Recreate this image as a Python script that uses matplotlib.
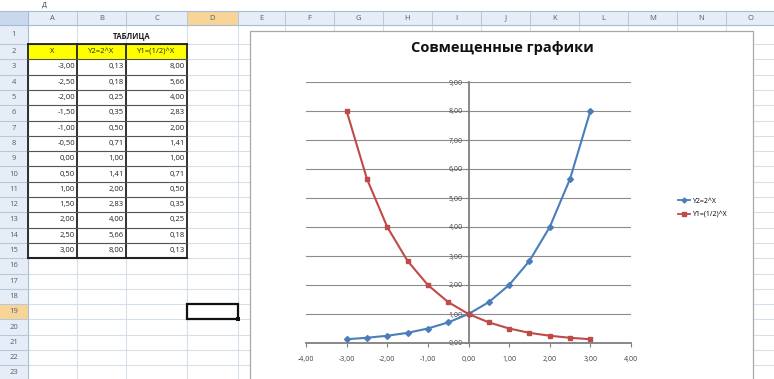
import matplotlib.pyplot as plt
from matplotlib.patches import Rectangle
from matplotlib.ticker import FuncFormatter, MultipleLocator
from matplotlib.lines import Line2D

plt.rcParams['font.family'] = ['Open Sans', 'DejaVu Sans']

# data from the sheet
x = [-3.0, -2.5, -2.0, -1.5, -1.0, -0.5, 0.0, 0.5, 1.0, 1.5, 2.0, 2.5, 3.0]
y2 = [0.13, 0.18, 0.25, 0.35, 0.50, 0.71, 1.00, 1.41, 2.00, 2.83, 4.00, 5.66, 8.00]
y1 = [8.00, 5.66, 4.00, 2.83, 2.00, 1.41, 1.00, 0.71, 0.50, 0.35, 0.25, 0.18, 0.13]
headers = ['X', 'Y2=2^X', 'Y1=(1/2)^X']
col_letters = list('ABCDEFGHIJKLMNO')
title = 'Совмещенные графики'
table_title = 'ТАБЛИЦА'

BLUE = '#4A7EBB'
RED = '#BE4B48'

W, H = 774, 379
fig = plt.figure(figsize=(W / 100, H / 100), dpi=100)
bg = fig.add_axes([0, 0, 1, 1])
bg.set_xlim(0, W)
bg.set_ylim(H, 0)
bg.axis('off')

# sheet geometry (pixels)
col_edges = [0, 28, 77, 126, 187, 238, 285, 334, 383, 432, 481, 530, 579, 628, 677, 726, 775]
row_h = 15.3
head_top, head_bot = 11, 25
row_tops = [25, 44] + [44 + i * row_h for i in range(1, 23)]


def row_span(r):
    return row_tops[r - 1], row_tops[r]


def fmt(v):
    return f'{v:.2f}'.replace('.', ',')


grid_c = '#D6DEEA'
for xe in col_edges[1:]:
    bg.plot([xe, xe], [head_top, H], color=grid_c, lw=0.8, zorder=1)
for yt in row_tops:
    bg.plot([0, W], [yt, yt], color=grid_c, lw=0.8, zorder=1)

# column header band
bg.add_patch(Rectangle((0, head_top), W, head_bot - head_top, fc='#E6EDF7', ec='none', zorder=2))
bg.add_patch(Rectangle((0, head_top), 28, head_bot - head_top, fc='#C9D8EC', ec='none', zorder=2))
bg.add_patch(Rectangle((col_edges[4], head_top), col_edges[5] - col_edges[4], head_bot - head_top,
                       fc='#F8D596', ec='none', zorder=2))
bg.plot([0, W], [head_top, head_top], color='#A9BCD6', lw=0.8, zorder=3)
bg.plot([0, W], [head_bot, head_bot], color='#A9BCD6', lw=0.8, zorder=3)
for i, letter in enumerate(col_letters):
    xl, xr = col_edges[i + 1], col_edges[i + 2]
    bg.plot([xr, xr], [head_top, head_bot], color='#B9C9DD', lw=0.8, zorder=3)
    bg.text((xl + xr) / 2, (head_top + head_bot) / 2, letter, ha='center', va='center',
            fontsize=5.5, color='#4C5F7C', zorder=4)

# row header column
bg.add_patch(Rectangle((0, head_bot), 28, H - head_bot, fc='#E6EDF7', ec='none', zorder=2))
bg.plot([28, 28], [head_top, H], color='#A9BCD6', lw=0.8, zorder=3)
for r in range(1, 24):
    t, b = row_span(r)
    if r == 19:
        bg.add_patch(Rectangle((0, t), 28, b - t, fc='#F8D596', ec='none', zorder=2))
    bg.plot([0, 28], [b, b], color='#B9C9DD', lw=0.8, zorder=3)
    bg.text(14, (t + b) / 2, str(r), ha='center', va='center', fontsize=5.5, color='#4C5F7C', zorder=4)

# text at the very top of the screenshot
bg.text(44, 5, 'Д', ha='center', va='center', fontsize=5, color='#333333', zorder=4)

# table
t1, b1 = row_span(1)
bg.text(132, (t1 + b1) / 2 + 1, table_title, ha='center', va='center', fontsize=5.5,
        fontweight='bold', color='#222222', zorder=4)
t2, b2 = row_span(2)
bg.add_patch(Rectangle((col_edges[1], t2), col_edges[4] - col_edges[1], b2 - t2,
                       fc='#FFFF00', ec='none', zorder=3))
for j, h in enumerate(headers):
    bg.text((col_edges[j + 1] + col_edges[j + 2]) / 2, (t2 + b2) / 2, h, ha='center', va='center',
            fontsize=5.5, color='#222222', zorder=4)
for i in range(len(x)):
    t, b = row_span(3 + i)
    for j, v in enumerate([x[i], y2[i], y1[i]]):
        bg.text(col_edges[j + 2] - 2, (t + b) / 2, fmt(v), ha='right', va='center',
                fontsize=5.5, color='#222222', zorder=4)
t_end = row_span(15)[1]
for xe in col_edges[1:5]:
    bg.plot([xe, xe], [t2, t_end], color='#222222', lw=1.3, zorder=5)
for r in range(2, 16):
    t, b = row_span(r)
    bg.plot([col_edges[1], col_edges[4]], [t, t], color='#555555', lw=0.8, zorder=5)
bg.plot([col_edges[1], col_edges[4]], [t2, t2], color='#222222', lw=1.3, zorder=5)
bg.plot([col_edges[1], col_edges[4]], [t_end, t_end], color='#222222', lw=1.5, zorder=5)

# selected cell D19
t19, b19 = row_span(19)
bg.add_patch(Rectangle((col_edges[4], t19), col_edges[5] - col_edges[4], b19 - t19,
                       fc='none', ec='#111111', lw=1.6, zorder=6))
bg.add_patch(Rectangle((col_edges[5] - 2, b19 - 2), 4, 4, fc='#111111', ec='none', zorder=6))

# chart frame
bg.add_patch(Rectangle((250, 31), 503, 360, fc='white', ec='#A8A8A8', lw=0.9, zorder=7))
bg.text(502, 48, title, ha='center', va='center', fontsize=10.5, fontweight='bold',
        color='#111111', zorder=8)

# chart axes
px_l, px_r, px_top, px_bot = 306, 631, 82, 343
ax = fig.add_axes([px_l / W, (H - px_bot) / H, (px_r - px_l) / W, (px_bot - px_top) / H])
ax.set_zorder(10)
ax.patch.set_alpha(0)
ax.set_xlim(-4, 4)
ax.set_ylim(0, 9)
ax.xaxis.set_major_locator(MultipleLocator(1))
ax.yaxis.set_major_locator(MultipleLocator(1))
comma = FuncFormatter(lambda v, p: fmt(v))
ax.xaxis.set_major_formatter(comma)
ax.yaxis.set_major_formatter(comma)
ax.grid(axis='y', color='#8C8C8C', lw=0.8)
ax.spines['left'].set_position(('data', 0))
ax.spines['bottom'].set_position(('data', 0))
ax.spines['top'].set_visible(False)
ax.spines['right'].set_visible(False)
for s in ('left', 'bottom'):
    ax.spines[s].set_color('#7F7F7F')
    ax.spines[s].set_linewidth(1.3)
ax.tick_params(axis='y', direction='out', length=3, width=0.8, color='#7F7F7F',
               labelsize=5, labelcolor='#404040', pad=1)
ax.tick_params(axis='x', direction='out', length=3, width=0.8, color='#7F7F7F',
               labelsize=5, labelcolor='#404040', pad=6)
ax.set_axisbelow(True)

ax.plot(x, y2, color=BLUE, lw=1.5, marker='D', ms=3, label='Y2=2^X', zorder=3)
ax.plot(x, y1, color=RED, lw=1.5, marker='s', ms=3, label='Y1=(1/2)^X', zorder=3)

handles = [Line2D([], [], color=BLUE, lw=1.3, marker='D', ms=2.5),
           Line2D([], [], color=RED, lw=1.3, marker='s', ms=2.5)]
leg = fig.legend(handles, ['Y2=2^X', 'Y1=(1/2)^X'], loc='center left',
                 bbox_to_anchor=(672 / W, (H - 208) / H), frameon=False, fontsize=5,
                 handlelength=1.7, handletextpad=0.3, labelspacing=0.9)
leg.set_zorder(11)

fig.savefig('out.png', dpi=100, facecolor='white')
